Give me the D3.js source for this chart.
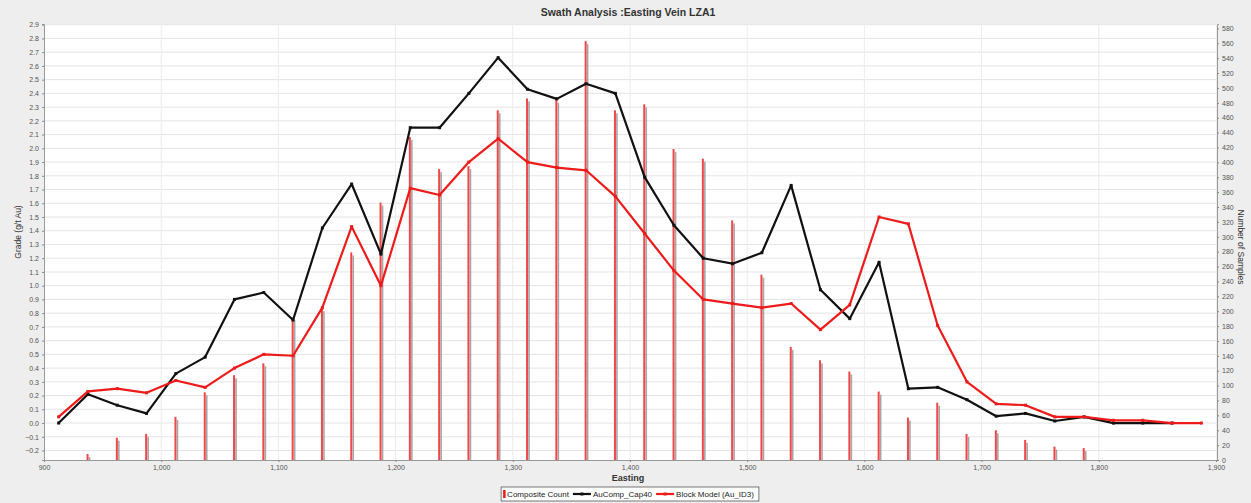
<!DOCTYPE html>
<html><head><meta charset="utf-8">
<script src="https://cdn.jsdelivr.net/npm/d3@7"></script>
<style>
html,body{margin:0;padding:0;background:#eeeeee;}
svg{display:block;font-family:"Liberation Sans",Arial,sans-serif;}
</style></head>
<body><svg id="c" width="1251" height="503"></svg>
<script>
const eastings = [912.5,937.5,962.5,987.5,1012.5,1037.5,1062.5,1087.5,1112.5,1137.5,1162.5,1187.5,1212.5,1237.5,1262.5,1287.5,1312.5,1337.5,1362.5,1387.5,1412.5,1437.5,1462.5,1487.5,1512.5,1537.5,1562.5,1587.5,1612.5,1637.5,1662.5,1687.5,1712.5,1737.5,1762.5,1787.5,1812.5,1837.5,1862.5,1887.5];
const auCompCap40 = [0.00,0.21,0.13,0.07,0.36,0.48,0.90,0.95,0.75,1.42,1.74,1.23,2.15,2.15,2.40,2.66,2.43,2.36,2.47,2.40,1.79,1.44,1.20,1.16,1.24,1.73,0.97,0.76,1.17,0.25,0.26,0.17,0.05,0.07,0.015,0.045,0.0,0.0,0.0,null];
const blockModel = [0.045,0.23,0.25,0.22,0.31,0.26,0.40,0.50,0.49,0.84,1.43,1.00,1.71,1.66,1.90,2.07,1.90,1.86,1.84,1.65,1.38,1.11,0.90,0.87,0.84,0.87,0.68,0.86,1.50,1.45,0.71,0.30,0.14,0.13,0.045,0.045,0.02,0.02,0.0,0.0];
const compositeCount = [0,8,30,35,58,91,114,130,192,204,279,346,434,391,395,470,486,484,563,470,478,418,405,322,249,152,134,119,92,57,77,35,40,27,18,16,0,0,0,0];
const xTicks = [900,1000,1100,1200,1300,1400,1500,1600,1700,1800,1900];
const gradeTicks = [-0.2,-0.1,0.0,0.1,0.2,0.3,0.4,0.5,0.6,0.7,0.8,0.9,1.0,1.1,1.2,1.3,1.4,1.5,1.6,1.7,1.8,1.9,2.0,2.1,2.2,2.3,2.4,2.5,2.6,2.7,2.8,2.9];
const countTicks = [0,20,40,60,80,100,120,140,160,180,200,220,240,260,280,300,320,340,360,380,400,420,440,460,480,500,520,540,560,580];
const seriesNames = ["Composite Count","AuComp_Cap40","Block Model (Au_ID3)"];
const seriesColors = ["#ee1b1b","#111111","#ee1b1b"];

const svg = d3.select("#c");
const L=44, R=1216, T=24, B=460;
const x = d3.scaleLinear().domain([900,1900]).range([L,R]);
const y = d3.scaleLinear().domain([-0.269,2.905]).range([B,T]);
const y2 = d3.scaleLinear().domain([0,586]).range([B,T]);

svg.append("text").attr("x",628).attr("y",16).attr("text-anchor","middle")
  .attr("font-size",10.5).attr("font-weight","bold").attr("fill","#333")
  .text("Swath Analysis :Easting Vein LZA1");

svg.append("rect").attr("x",L).attr("y",T).attr("width",R-L).attr("height",B-T).attr("fill","#fff");

// grid
svg.append("g").selectAll("line").data(gradeTicks).join("line")
  .attr("x1",L).attr("x2",R).attr("y1",d=>y(d)).attr("y2",d=>y(d))
  .attr("stroke","#e4e4e4").attr("stroke-width",1);
svg.append("g").selectAll("line").data(xTicks.slice(1,-1)).join("line")
  .attr("x1",d=>x(d)).attr("x2",d=>x(d)).attr("y1",T).attr("y2",B)
  .attr("stroke","#ececec").attr("stroke-width",1);

// bars
const bars = svg.append("g");
const cdata = eastings.map((e,i)=>({e,v:compositeCount[i]})).filter(d=>d.v>0);
bars.selectAll("rect.sh").data(cdata).join("rect").attr("class","sh")
  .attr("x",d=>x(d.e)+0.8).attr("width",1.6)
  .attr("y",d=>y2(d.v)+3).attr("height",d=>B-y2(d.v)-3)
  .attr("fill","#8a8a8a").attr("opacity",0.75);
bars.selectAll("rect.b").data(cdata).join("rect").attr("class","b")
  .attr("x",d=>x(d.e)-1.4).attr("width",2)
  .attr("y",d=>y2(d.v)).attr("height",d=>B-y2(d.v))
  .attr("fill","#f04848");

// lines
function drawLine(vals,color){
  const pts = eastings.map((e,i)=>({e,v:vals[i]})).filter(d=>d.v!==null);
  svg.append("path").datum(pts)
    .attr("d",d3.line().x(d=>x(d.e)).y(d=>y(d.v)))
    .attr("fill","none").attr("stroke",color).attr("stroke-width",2.2).attr("stroke-linejoin","round");
  svg.append("g").selectAll("rect").data(pts).join("rect")
    .attr("x",d=>x(d.e)-1.5).attr("y",d=>y(d.v)-1.5).attr("width",3).attr("height",3).attr("fill",color);
}
drawLine(auCompCap40,seriesColors[1]);
drawLine(blockModel,seriesColors[2]);

// axes
const fmt = d3.format(",");
const ax = svg.append("g").attr("transform",`translate(0,${B})`)
  .call(d3.axisBottom(x).tickValues(xTicks).tickFormat(fmt).tickSize(2).tickPadding(3));
const ay = svg.append("g").attr("transform",`translate(${L},0)`)
  .call(d3.axisLeft(y).tickValues(gradeTicks).tickFormat(d3.format(".1f")).tickSize(2).tickPadding(3));
const ay2 = svg.append("g").attr("transform",`translate(${R+1},0)`)
  .call(d3.axisRight(y2).tickValues(countTicks).tickSize(2).tickPadding(3));
[ax,ay,ay2].forEach(g=>{
  g.selectAll("text").attr("font-size",7).attr("fill","#555").attr("font-family","'Liberation Sans',Arial,sans-serif");
  g.selectAll("line").attr("stroke","#888");
  g.select(".domain").attr("stroke","#999");
});

svg.append("text").attr("x",628).attr("y",481).attr("text-anchor","middle")
  .attr("font-size",9).attr("font-weight","bold").attr("fill","#333").text("Easting");
svg.append("text").attr("transform","translate(21,232) rotate(-90)").attr("text-anchor","middle")
  .attr("font-size",8.5).attr("fill","#333").text("Grade (g/t Au)");
svg.append("text").attr("transform","translate(1238,247) rotate(90)").attr("text-anchor","middle")
  .attr("font-size",8.5).attr("fill","#333").text("Number of Samples");

// legend
const lg = svg.append("g");
const box = lg.append("rect").attr("y",487).attr("height",14)
  .attr("fill","#fff").attr("stroke","#555").attr("stroke-width",0.8);
let cx = 0;
const items = lg.append("g");
seriesNames.forEach((name,i)=>{
  if(i===0){
    items.append("rect").attr("x",cx+2).attr("y",490).attr("width",2.5).attr("height",8).attr("fill",seriesColors[i]);
    cx += 6;
  } else {
    items.append("line").attr("x1",cx+1).attr("x2",cx+19).attr("y1",494).attr("y2",494)
      .attr("stroke",seriesColors[i]).attr("stroke-width",2.2);
    items.append("rect").attr("x",cx+8.5).attr("y",492.5).attr("width",3).attr("height",3).attr("fill",seriesColors[i]);
    cx += 21;
  }
  const t = items.append("text").attr("x",cx).attr("y",497.3).attr("font-size",8).attr("fill","#222").text(name);
  cx += t.node().getComputedTextLength() + 3;
});
const totalW = cx + 2;
const x0 = 630 - totalW/2;
items.attr("transform",`translate(${x0},0)`);
box.attr("x",x0).attr("width",totalW);
</script></body></html>
